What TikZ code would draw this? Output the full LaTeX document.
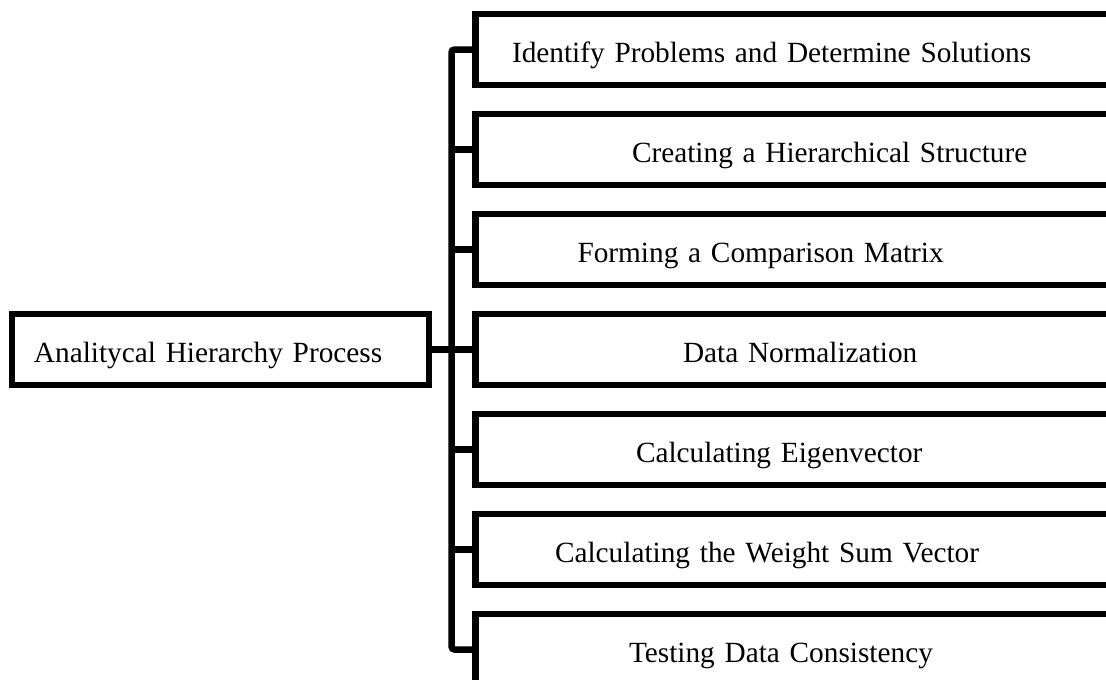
\documentclass[tikz,border=0pt]{standalone}
\usepackage{fontspec}
\setmainfont{Liberation Serif}
\usetikzlibrary{calc}

\tikzset{
	boxtext/.style={font=\fontsize{29.3}{35}\selectfont, text height=28pt, text depth=2pt, align=left},
	stepbox/.style={boxtext, draw, line width=6.5pt, anchor=west, inner xsep=0pt, text width=660pt, minimum height=71pt},
	mainbox/.style={boxtext, draw, line width=6.5pt, anchor=west, inner xsep=22pt, text width=373pt, minimum height=71pt},
	link/.style={line width=6.5pt, rounded corners=3pt}
}

\begin{document}
\begin{tikzpicture}[x=1pt, y=-1pt]
			\useasboundingbox (0,0) rectangle (1106,680);
			\clip (0,0) rectangle (1106,680);
			% process
			\node[mainbox] (ahp) at (8.75,349.5) {Analitycal Hierarchy Process};
			% steps
			\node[stepbox] (s1) at (472.25,49.5) {\hspace*{36.5pt}Identify Problems and Determine Solutions};
			\node[stepbox] (s2) at (472.25,149.5) {\hspace*{156.5pt}Creating a Hierarchical Structure};
			\node[stepbox] (s3) at (472.25,249.5) {\hspace*{102pt}Forming a Comparison Matrix};
			\node[stepbox] (s4) at (472.25,349.5) {\hspace*{207.5pt}Data Normalization};
			\node[stepbox] (s5) at (472.25,449.5) {\hspace*{160.5pt}Calculating Eigenvector};
			\node[stepbox] (s6) at (472.25,549.5) {\hspace*{79.5pt}Calculating the Weight Sum Vector};
			\node[stepbox] (s7) at (472.25,649.5) {\hspace*{153.5pt}Testing Data Consistency};
			% tree
			\coordinate (trunk) at (451.5,0);
			\draw[link] (s1.west) -| (trunk |- s7.west) -- (s7.west);
			\draw[link] (ahp.east) -- (trunk |- ahp.east);
			\draw[link] (trunk |- s2.west) -- (s2.west);
			\draw[link] (trunk |- s3.west) -- (s3.west);
			\draw[link] (trunk |- s4.west) -- (s4.west);
			\draw[link] (trunk |- s5.west) -- (s5.west);
			\draw[link] (trunk |- s6.west) -- (s6.west);
\end{tikzpicture}
\end{document}
